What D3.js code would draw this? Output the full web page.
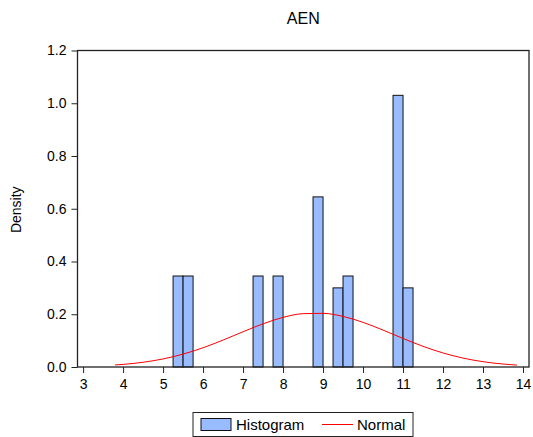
<!DOCTYPE html>
<html>
<head>
<meta charset="utf-8">
<script src="https://cdn.jsdelivr.net/npm/d3@7"></script>
<style>
  body { margin: 0; background: #fff; }
  svg { display: block; font-family: "Liberation Sans", Arial, sans-serif; }
</style>
</head>
<body>
<div class="Histogram"></div>
<script>
// bins (left edge, right edge) and density heights
const binStarts = [5.25, 5.5, 7.25, 7.75, 8.75, 9.25, 9.5, 10.75, 11.0];
const binEnds   = [5.5, 5.75, 7.5, 8.0, 9.0, 9.5, 9.75, 11.0, 11.25];
const densities = [0.345, 0.345, 0.345, 0.345, 0.645, 0.30, 0.345, 1.03, 0.30];

// normal curve points
const normalX = [3.8, 4, 4.5, 5, 5.5, 6, 6.5, 7, 7.5, 8, 8.5, 9, 9.5, 10, 10.5, 11, 11.5, 12, 12.5, 13, 13.5, 13.85];
const normalY = [0.0077, 0.0099, 0.018, 0.0306, 0.0489, 0.073, 0.1021, 0.1336, 0.1638, 0.1881, 0.2022, 0.2035,
                 0.1918, 0.1693, 0.1399, 0.1083, 0.0784, 0.0532, 0.0338, 0.0201, 0.0112, 0.0072];

const xTicks = [3, 4, 5, 6, 7, 8, 9, 10, 11, 12, 13, 14];
const yTicks = [0.0, 0.2, 0.4, 0.6, 0.8, 1.0, 1.2];

const width = 533, height = 437;
const margin = { top: 50.5, right: 4, bottom: 70, left: 77.5 };
const plotW = width - margin.left - margin.right;
const plotH = height - margin.top - margin.bottom;

const x = d3.scaleLinear().domain([2.86, 14.15]).range([0, plotW]);
const y = d3.scaleLinear().domain([0, 1.2]).range([plotH, 0]);

const svg = d3.select(".Histogram")
  .append("svg")
  .attr("width", width)
  .attr("height", height);

// title
svg.append("text")
  .attr("x", margin.left + plotW / 2)
  .attr("y", 24)
  .attr("text-anchor", "middle")
  .attr("font-size", 16)
  .attr("fill", "#000")
  .text("AEN");

const g = svg.append("g")
  .attr("transform", `translate(${margin.left},${margin.top})`);

// bars
g.selectAll("rect.bar")
  .data(densities)
  .enter()
  .append("rect")
  .attr("class", "bar")
  .attr("x", (d, i) => x(binStarts[i]))
  .attr("y", d => y(d))
  .attr("width", (d, i) => x(binEnds[i]) - x(binStarts[i]))
  .attr("height", d => y(0) - y(d))
  .attr("fill", "#99bbff")
  .attr("stroke", "#111")
  .attr("stroke-width", 1);

// normal curve
const line = d3.line()
  .x((d, i) => x(normalX[i]))
  .y(d => y(d))
  .curve(d3.curveMonotoneX);

g.append("path")
  .datum(normalY)
  .attr("d", line)
  .attr("fill", "none")
  .attr("stroke", "#ff0000")
  .attr("stroke-width", 1);

// frame
g.append("rect")
  .attr("width", plotW)
  .attr("height", plotH)
  .attr("fill", "none")
  .attr("stroke", "#222")
  .attr("stroke-width", 1.3);

// axes
const xAxis = g.append("g")
  .attr("transform", `translate(0,${plotH})`)
  .call(d3.axisBottom(x).tickValues(xTicks).tickFormat(d3.format("d")).tickSize(6).tickPadding(6));

const yAxis = g.append("g")
  .call(d3.axisLeft(y).tickValues(yTicks).tickFormat(d3.format(".1f")).tickSize(6).tickPadding(5));

[xAxis, yAxis].forEach(a => {
  a.select(".domain").remove();
  a.selectAll("text").attr("font-size", 14).attr("fill", "#000")
    .attr("font-family", "'Liberation Sans', Arial, sans-serif");
  a.selectAll("line").attr("stroke", "#222");
});

// y label
svg.append("text")
  .attr("transform", `translate(21,${margin.top + plotH / 2 + 1}) rotate(-90)`)
  .attr("text-anchor", "middle")
  .attr("font-size", 14)
  .attr("fill", "#000")
  .text("Density");

// legend
const legend = svg.append("g").attr("transform", "translate(193,412.5)");
legend.append("rect")
  .attr("width", 220)
  .attr("height", 24)
  .attr("fill", "#fff")
  .attr("stroke", "#222")
  .attr("stroke-width", 1);
legend.append("rect")
  .attr("x", 8)
  .attr("y", 6)
  .attr("width", 30)
  .attr("height", 12)
  .attr("fill", "#99bbff")
  .attr("stroke", "#111");
legend.append("text")
  .attr("x", 43)
  .attr("y", 17.5)
  .attr("font-size", 15)
  .text("Histogram");
legend.append("line")
  .attr("x1", 129)
  .attr("x2", 160)
  .attr("y1", 12)
  .attr("y2", 12)
  .attr("stroke", "#ff0000");
legend.append("text")
  .attr("x", 164)
  .attr("y", 17.5)
  .attr("font-size", 15)
  .text("Normal");
</script>
</body>
</html>
